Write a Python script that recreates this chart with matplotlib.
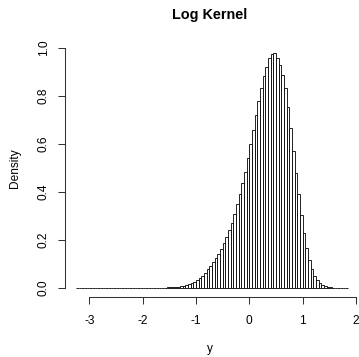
import numpy as np
import matplotlib
matplotlib.use("Agg")
import matplotlib.pyplot as plt

plt.rcParams['font.family'] = ['Liberation Sans', 'DejaVu Sans']

# histogram breaks (width 0.05) and density of each bin
breaks = np.arange(-3.25, 1.8501, 0.05)
density = [
    0.00003, 0.00003, 0.00004, 0.00004, 0.00005,
    0.00005, 0.00005, 0.00006, 0.00007, 0.00008, 0.00009, 0.0001, 0.00011, 0.00012, 0.00014,
    0.00016, 0.00018, 0.0002, 0.00023, 0.00026, 0.0003, 0.00035, 0.0004, 0.00045, 0.0005,
    0.0006, 0.0007, 0.0008, 0.0009, 0.001, 0.0012, 0.0014, 0.0016, 0.0019, 0.0022,
    0.0026, 0.003, 0.004, 0.0055, 0.0072, 0.0097, 0.0125, 0.017, 0.021, 0.026,
    0.033, 0.04, 0.05, 0.064, 0.08, 0.093, 0.108, 0.125, 0.143, 0.163,
    0.186, 0.212, 0.24, 0.272, 0.31, 0.35, 0.393, 0.438, 0.485, 0.54,
    0.60, 0.658, 0.72, 0.78, 0.835, 0.885, 0.922, 0.957, 0.974, 0.978,
    0.96, 0.929, 0.8875, 0.832, 0.755, 0.665, 0.572, 0.478, 0.39, 0.304,
    0.228, 0.168, 0.117, 0.079, 0.051, 0.033, 0.019, 0.011, 0.007, 0.004,
    0.0025, 0.0015, 0.001, 0.0006, 0.0004, 0.0003, 0.0002,
]
xticks = [-3, -2, -1, 0, 1, 2]
yticks = [0.0, 0.2, 0.4, 0.6, 0.8, 1.0]

W, H = 359, 357
fig = plt.figure(figsize=(W / 100, H / 100), dpi=100)
ax = fig.add_axes([60 / W, 57 / H, 299 / W, 260 / H])

ax.bar(breaks[:-1], density, width=0.05, align='edge',
       facecolor='white', edgecolor='black', linewidth=0.6)

ax.set_xlim(-3.5496, 2.057)
ax.set_ylim(-0.05, 1.0333)

# R style detached axes
for s in ['top', 'right']:
    ax.spines[s].set_visible(False)
ax.spines['bottom'].set_position(('data', -0.0375))
ax.spines['bottom'].set_bounds(-3, 2)
ax.spines['left'].set_position(('data', -3.456))
ax.spines['left'].set_bounds(0, 1)
for s in ['bottom', 'left']:
    ax.spines[s].set_linewidth(0.75)
    ax.spines[s].set_color('#333333')

ax.set_xticks(xticks)
ax.set_xticklabels([str(t) for t in xticks])
ax.set_yticks(yticks)
ax.set_yticklabels(['%.1f' % t for t in yticks], rotation=90, va='center')
ax.tick_params(axis='both', length=5, width=0.75, color='#333333',
               labelsize=8.6, labelcolor='black')
ax.tick_params(axis='x', pad=8)
ax.tick_params(axis='y', pad=6)

fig.text(210 / W, 1 - 15 / H, 'Log Kernel', ha='center', va='center',
         fontsize=10.4, fontweight='bold')
fig.text(210 / W, 1 - 349 / H, 'y', ha='center', va='center', fontsize=8.6)
fig.text(15 / W, 1 - 168 / H, 'Density', ha='center', va='center',
         rotation=90, fontsize=8.6)

fig.savefig('out.png', dpi=100)
